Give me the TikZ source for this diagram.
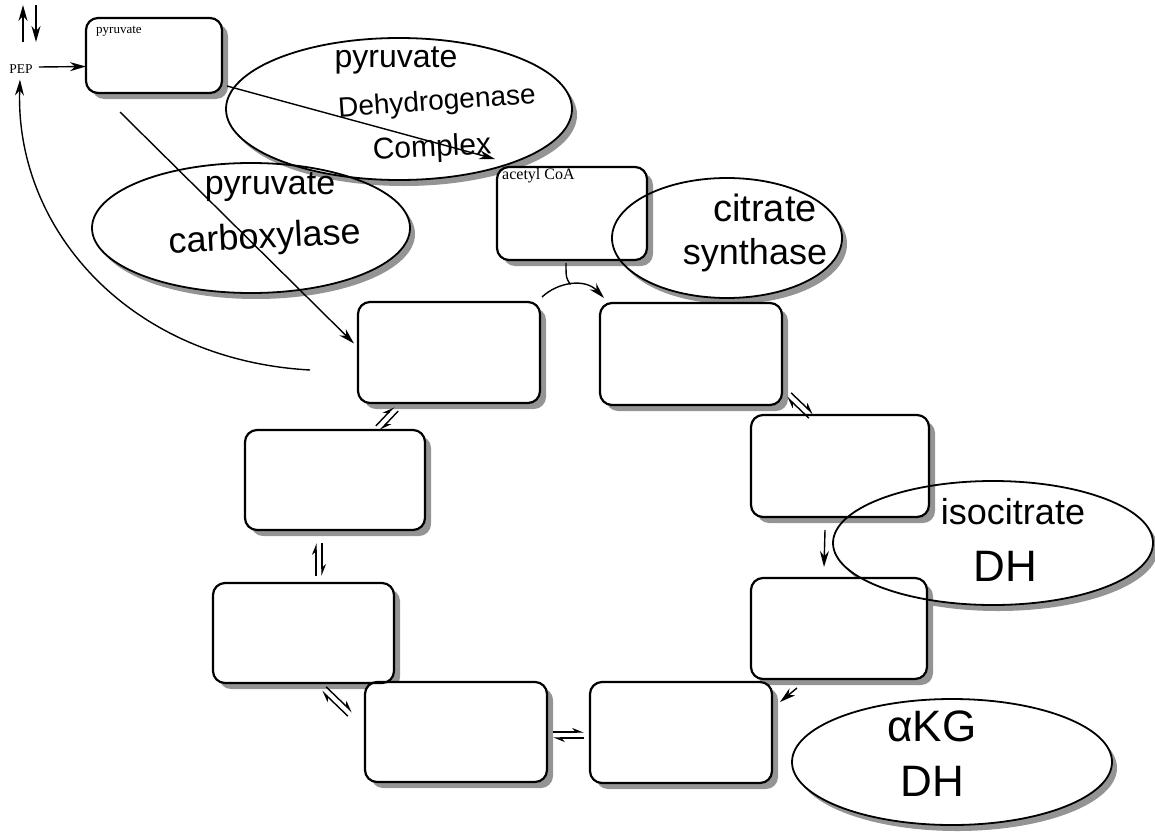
\documentclass[tikz,border=0pt]{standalone}
\usepackage{fontspec}
\setmainfont{Liberation Serif}
\newfontfamily\handfont{Liberation Sans}
\usetikzlibrary{arrows.meta,shapes.geometric,calc,backgrounds}
\tikzset{
 stepbox/.style={draw, line width=2.2pt, rounded corners=12pt, inner sep=0pt, outer sep=0pt},
 enz/.style={draw, ellipse, line width=1.8pt, inner sep=0pt, outer sep=0pt},
 hand/.style={font=\handfont\fontsize{32}{36}\selectfont, inner sep=0pt},
 lbl/.style={inner sep=0pt},
 arr/.style={line width=1.4pt, -{Stealth[length=16pt,width=9pt]}},
 harp/.style={line width=1.4pt, -{Stealth[harpoon,length=10pt,width=8pt]}},
 shadowc/.style={fill=black!42},
}
\newcommand\bshadow[1]{\begin{scope}[on background layer, even odd rule, rounded corners=12pt]
\clip (-50,-50) rectangle (1200,900) (#1.north west) rectangle (#1.south east);
\fill[shadowc] ([shift={(6pt,-6pt)}]#1.north west) rectangle ([shift={(6pt,-6pt)}]#1.south east);
\end{scope}}
\newcommand\eshadow[3]{\begin{scope}[on background layer, even odd rule]
\clip (-50,-50) rectangle (1200,900) (#1.center) ellipse [x radius=#2pt, y radius=#3pt];
\fill[shadowc] ([shift={(5pt,-6pt)}]#1.center) ellipse [x radius=#2pt, y radius=#3pt];
\end{scope}}
\newcommand\eqpair[2]{%
\draw[harp] ($(#1)!3pt!90:(#2)$) -- ($(#2)!3pt!-90:(#1)$);
\draw[harp] ($(#2)!3pt!90:(#1)$) -- ($(#1)!3pt!-90:(#2)$);}
\begin{document}
\begin{tikzpicture}[x=1pt,y=-1pt]
\useasboundingbox (0,0) rectangle (1155,835);
% boxes
\node[stepbox, minimum width=136pt, minimum height=75pt] (pyr) at (154,55.5) {};
\node[stepbox, minimum width=150pt, minimum height=93pt] (ac) at (572,213.5) {};
\node[stepbox, minimum width=182pt, minimum height=101pt] (A) at (449,352.5) {};
\node[stepbox, minimum width=182pt, minimum height=102pt] (B) at (691,354) {};
\node[stepbox, minimum width=178pt, minimum height=102pt] (C) at (840,466) {};
\node[stepbox, minimum width=176pt, minimum height=101pt] (D) at (839,628.5) {};
\node[stepbox, minimum width=182pt, minimum height=101pt] (E) at (681,732.5) {};
\node[stepbox, minimum width=182pt, minimum height=100pt] (F) at (456,732) {};
\node[stepbox, minimum width=181pt, minimum height=100pt] (G) at (303.5,633) {};
\node[stepbox, minimum width=180pt, minimum height=100pt] (H) at (335,480) {};
\bshadow{pyr}\bshadow{ac}\bshadow{A}\bshadow{B}\bshadow{C}
\bshadow{D}\bshadow{E}\bshadow{F}\bshadow{G}\bshadow{H}
% box texts
\node[lbl, anchor=north west, font=\fontsize{13}{15}\selectfont] (pyrT) at ([shift={(10pt,-8pt)}]pyr.north west) {pyruvate};
\node[lbl, anchor=north west, font=\fontsize{16}{18}\selectfont] (acT) at ([shift={(5pt,-1pt)}]ac.north west) {acetyl CoA};
\node[lbl, font=\fontsize{13.5}{15}\selectfont] (PEP) at (21,69) {PEP};
% ellipses
\node[enz, minimum width=346pt, minimum height=142pt] (pdh) at (399,109) {};
\node[enz, minimum width=318pt, minimum height=130pt] (pc) at (251,228) {};
\node[enz, minimum width=230pt, minimum height=120pt] (cs) at (727,238) {};
\node[enz, minimum width=320pt, minimum height=124pt] (idh) at (993,543) {};
\node[enz, minimum width=320pt, minimum height=126pt] (kdh) at (952,762) {};
\eshadow{pdh}{173}{71}
\eshadow{pc}{159}{65}
\eshadow{cs}{115}{60}
\eshadow{idh}{160}{62}
\eshadow{kdh}{160}{63}
% handwritten labels
\node[hand] (pdh1) at (396,60) {pyruvate};
\node[hand, font=\handfont\fontsize{28}{32}\selectfont, rotate=4] (pdh2) at (437,103) {Dehydrogenase};
\node[hand, font=\handfont\fontsize{30}{34}\selectfont, rotate=3] (pdh3) at (432,149) {Complex};
\node[hand, font=\handfont\fontsize{34}{38}\selectfont] (pc1) at (270,187) {pyruvate};
\node[hand, font=\handfont\fontsize{36}{40}\selectfont, rotate=3] (pc2) at (265,239) {carboxylase};
\node[hand, font=\handfont\fontsize{38}{40}\selectfont] (cs1) at (765,208) {citrate};
\node[hand, font=\handfont\fontsize{36}{40}\selectfont] (cs2) at (755,255) {synthase};
\node[hand, font=\handfont\fontsize{36}{40}\selectfont] (idh1) at (1013,512) {isocitrate};
\node[hand, font=\handfont\fontsize{44}{48}\selectfont] (idh2) at (1005,566) {DH};
\node[hand, font=\handfont\fontsize{44}{48}\selectfont] (kdh1) at (932,726) {αKG};
\node[hand, font=\handfont\fontsize{44}{48}\selectfont] (kdh2) at (932,781) {DH};
% free ends
\coordinate (upS) at (23,42); \coordinate (upE) at (23,5);
\coordinate (dnS) at (36,5); \coordinate (dnE) at (36,42);
\coordinate (loopS) at (310,370);
\draw[arr] (upS) -- (upE);
\draw[arr] (dnS) -- (dnE);
\draw[arr] ([xshift=6pt,yshift=2pt]PEP.east) -- ([yshift=-11pt]pyr.west);
\draw[arr] (loopS) .. controls (130,360) and (15,230) .. ([shift={(-1pt,-6pt)}]PEP.south);
\draw[arr] ([shift={(34pt,-19pt)}]pyr.south west) -- ([shift={(-4pt,9pt)}]A.west);
\draw[arr] ([shift={(5pt,7pt)}]pyr.south east) -- ([shift={(-2pt,8pt)}]ac.north west);
\draw[arr] ([shift={(2pt,5pt)}]A.north east) .. controls (558,282) and (585,278) .. ([shift={(4pt,5pt)}]B.north west) node[pos=0.48, coordinate] (join) {};
\draw[line width=1.4pt] ([shift={(-6pt,-3pt)}]ac.south) .. controls (566,278) .. (join);
\draw[arr] ([shift={(-15pt,-13pt)}]C.south) -- ([shift={(-15pt,11pt)}]D.north);
\draw[arr] ([shift={(46pt,-9pt)}]D.south west) -- ([shift={(8pt,-20pt)}]E.north east);
% equilibria
\coordinate (ahA) at (396,409); \coordinate (ahH) at (378,428);
\coordinate (bcB) at (789,395); \coordinate (bcC) at (811,416);
\coordinate (hgH) at (319,543); \coordinate (hgG) at (319,576);
\coordinate (gfG) at (324,689); \coordinate (gfF) at (350,714);
\coordinate (feF) at (553,735); \coordinate (feE) at (584,735);
\eqpair{ahA}{ahH}
\eqpair{bcB}{bcC}
\eqpair{hgH}{hgG}
\eqpair{gfG}{gfF}
\eqpair{feF}{feE}
\end{tikzpicture}
\end{document}
